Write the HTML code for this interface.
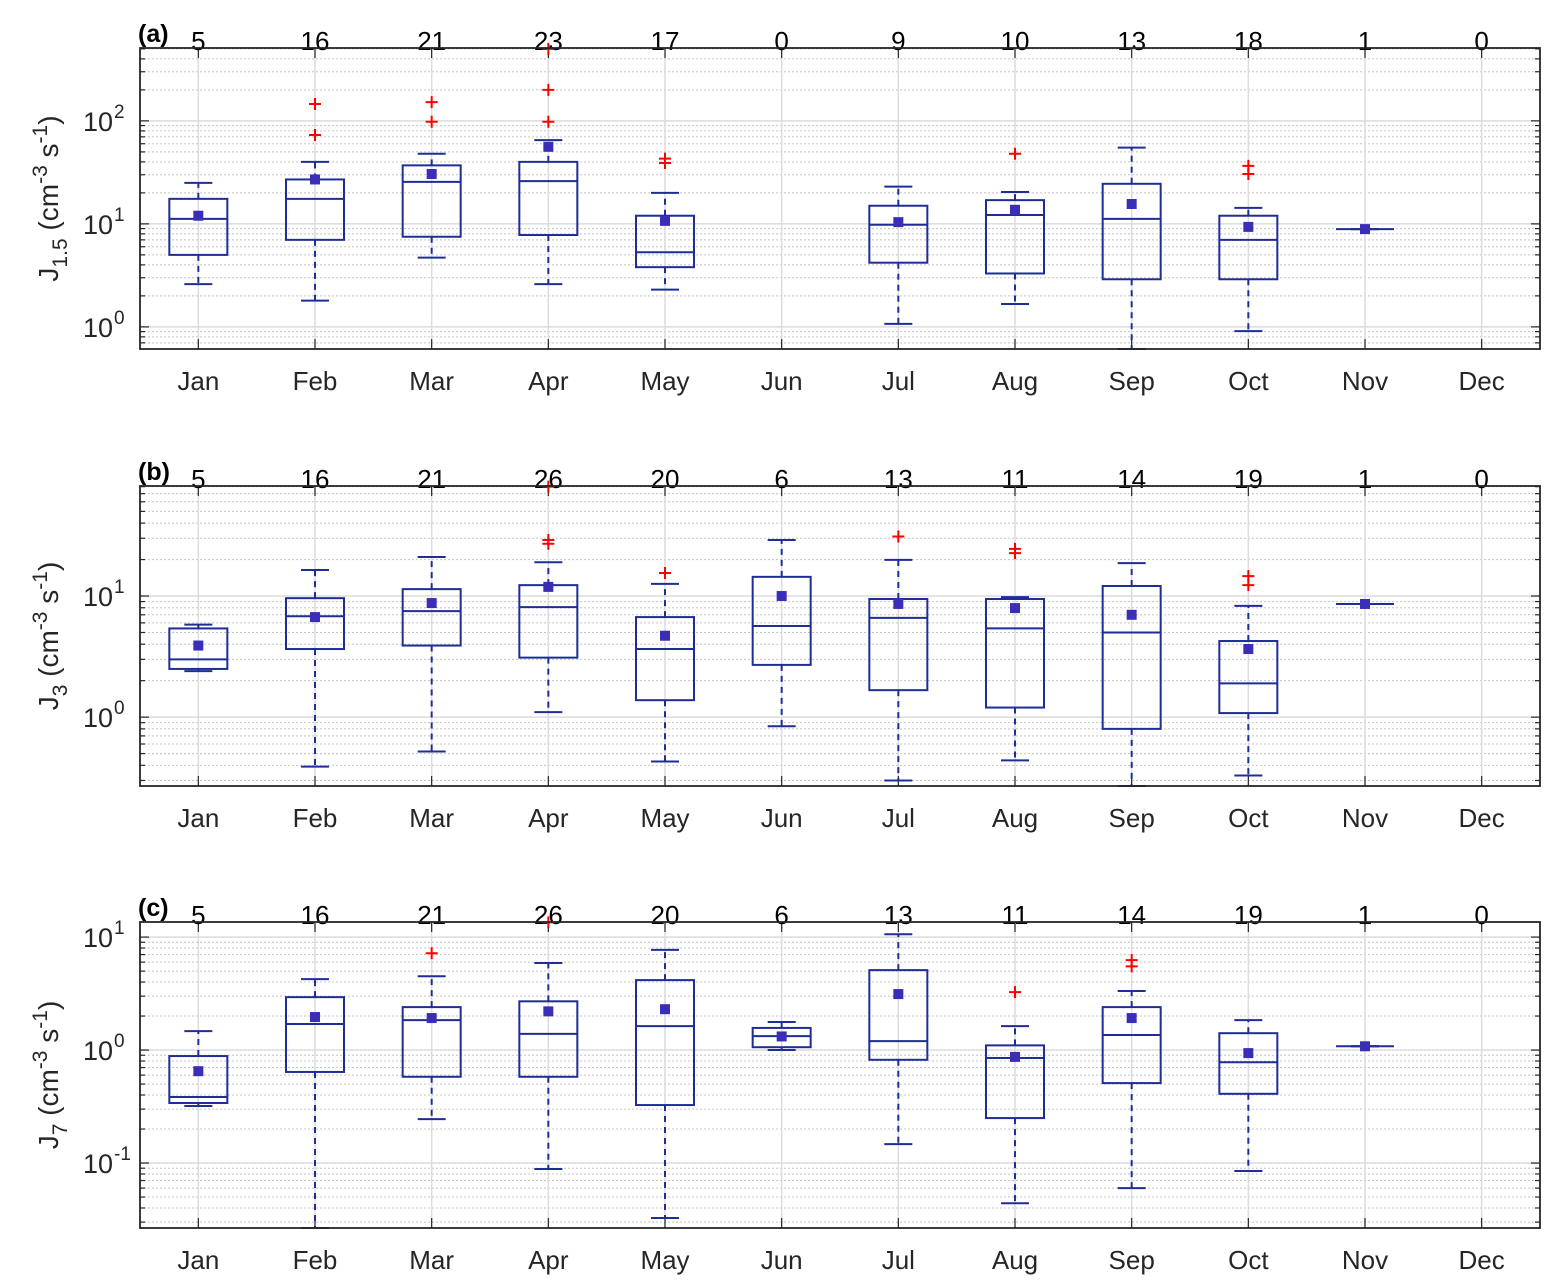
<!DOCTYPE html>
<html><head><meta charset="utf-8"><style>
html,body{margin:0;padding:0;background:#fff}
svg{display:block;font-family:"Liberation Sans",sans-serif}
</style></head><body>
<svg id="chart" width="1555" height="1288" viewBox="0 0 1555 1288" xmlns="http://www.w3.org/2000/svg"></svg>
<script>
const months = ["Jan","Feb","Mar","Apr","May","Jun","Jul","Aug","Sep","Oct","Nov","Dec"];
// Panel (a) J1.5
const countsA = [5,16,21,23,17,0,9,10,13,18,1,0];
const lowA  = [2.6,1.8,4.7,2.6,2.3,null,1.07,1.67,0.61,0.91,8.9,null];
const q1A   = [5,7,7.5,7.8,3.8,null,4.2,3.3,2.9,2.9,8.9,null];
const medA  = [11.2,17.5,25.6,26,5.3,null,9.8,12.2,11.2,7,8.9,null];
const q3A   = [17.5,27,37,40,12,null,15,17,24.5,12,8.9,null];
const highA = [25,40,48,65,20,null,23,20.4,55,14.3,8.9,null];
const meanA = [12,27,30.5,56,10.7,null,10.4,13.7,15.6,9.35,8.9,null];
const outA  = [[],[146,73],[152,98],[500,200,98],[43,39],[],[],[48],[],[36.6,30.5],[],[]];
// Panel (b) J3
const countsB = [5,16,21,26,20,6,13,11,14,19,1,0];
const lowB  = [2.4,0.39,0.52,1.1,0.43,0.84,0.3,0.44,0.27,0.33,8.6,null];
const q1B   = [2.5,3.65,3.9,3.1,1.38,2.7,1.67,1.2,0.8,1.08,8.6,null];
const medB  = [3.0,6.8,7.5,8.1,3.65,5.65,6.6,5.4,5.0,1.9,8.6,null];
const q3B   = [5.4,9.6,11.4,12.3,6.7,14.4,9.45,9.45,12.1,4.25,8.6,null];
const highB = [5.8,16.4,21,19,12.6,29,19.9,9.8,18.7,8.3,8.6,null];
const meanB = [3.9,6.7,8.75,11.9,4.7,10,8.6,7.95,7.0,3.65,8.6,null];
const outB  = [[],[],[],[80,29,27],[15.5],[],[31],[24.5,22.6],[],[14.6,12.3],[],[]];
// Panel (c) J7
const countsC = [5,16,21,26,20,6,13,11,14,19,1,0];
const lowC  = [0.32,0.0266,0.245,0.0885,0.0326,1.0,0.147,0.044,0.06,0.085,1.08,null];
const q1C   = [0.34,0.64,0.58,0.58,0.326,1.06,0.82,0.25,0.51,0.41,1.08,null];
const medC  = [0.384,1.7,1.84,1.39,1.63,1.33,1.2,0.85,1.36,0.78,1.08,null];
const q3C   = [0.885,2.94,2.4,2.7,4.16,1.57,5.1,1.1,2.4,1.41,1.08,null];
const highC = [1.47,4.25,4.5,5.9,7.7,1.77,10.6,1.63,3.33,1.84,1.08,null];
const meanC = [0.65,1.96,1.92,2.2,2.3,1.32,3.13,0.87,1.92,0.94,1.08,null];
const outC  = [[],[],[7.2],[13.5],[],[],[],[3.26],[6.26,5.5],[],[],[]];

const NS="http://www.w3.org/2000/svg";
const svg=document.getElementById('chart');
function el(tag,attrs,parent){const e=document.createElementNS(NS,tag);for(const k in attrs)e.setAttribute(k,attrs[k]);(parent||svg).appendChild(e);return e;}

const X0=140,X1=1540;
function xs(i){return X0+(i+0.5)*(X1-X0)/12;}

const panels=[
 {id:'a',top:48,bottom:349,ymin:0.61,ymax:510,decs:[0,1,2],sub:'1.5',counts:countsA,low:lowA,q1:q1A,med:medA,q3:q3A,high:highA,mean:meanA,out:outA},
 {id:'b',top:486,bottom:786,ymin:0.27,ymax:81,decs:[0,1],sub:'3',counts:countsB,low:lowB,q1:q1B,med:medB,q3:q3B,high:highB,mean:meanB,out:outB},
 {id:'c',top:922,bottom:1228,ymin:0.0266,ymax:13.6,decs:[-1,0,1],sub:'7',counts:countsC,low:lowC,q1:q1C,med:medC,q3:q3C,high:highC,mean:meanC,out:outC}
];
const BOX='#1f2d96', MEAN='#3a2db8';

panels.forEach(p=>{
  const g=el('g',{});
  
  
  const lmin=Math.log10(p.ymin),lmax=Math.log10(p.ymax);
  const ys=v=>p.bottom-(Math.log10(v)-lmin)/(lmax-lmin)*(p.bottom-p.top);
  const grid=el('g',{},g);
  
  
  for(let d=Math.floor(lmin);d<=Math.ceil(lmax);d++){
    for(let m=1;m<10;m++){
      const v=m*Math.pow(10,d);
      if(v<p.ymin||v>p.ymax)continue;
      const y=ys(v);
      if(m===1){el('line',{x1:X0,x2:X1,y1:y,y2:y,stroke:'#dcdcdc','stroke-width':1.5},grid);}
      else el('line',{x1:X0,x2:X1,y1:y,y2:y,stroke:'#c4c4c4','stroke-width':1,'stroke-dasharray':'2,2'},grid);
      const tl=m===1?9:5;
      el('line',{x1:X0,x2:X0+tl,y1:y,y2:y,stroke:'#262626','stroke-width':1.2},grid);
      el('line',{x1:X1,x2:X1-tl,y1:y,y2:y,stroke:'#262626','stroke-width':1.2},grid);
    }
  }
  months.forEach((m,i)=>{
    const x=xs(i);
    el('line',{x1:x,x2:x,y1:p.top,y2:p.bottom,stroke:'#dcdcdc','stroke-width':1.5},grid);
    el('line',{x1:x,x2:x,y1:p.top,y2:p.top+10,stroke:'#262626','stroke-width':1.2},grid);
    el('line',{x1:x,x2:x,y1:p.bottom,y2:p.bottom-10,stroke:'#262626','stroke-width':1.2},grid);
    const t=el('text',{x:x,y:p.bottom+41,'text-anchor':'middle','font-size':26,fill:'#262626'},g);
    t.textContent=m;
    
    
    const c=el('text',{x:x,y:p.top+2,'text-anchor':'middle','font-size':26,fill:'#000'},g);
    c.textContent=p.counts[i];
    
    
  });
  p.decs.forEach(d=>{
    const y=ys(Math.pow(10,d));
    const t=el('text',{x:113,y:y+10,'text-anchor':'end','font-size':27,fill:'#262626'},g);
    t.textContent='10';
    
    
    const s=el('text',{x:114,y:y-3,'text-anchor':'start','font-size':19,fill:'#262626'},g);
    s.textContent=String(d);
  });
  months.forEach((m,i)=>{
    if(p.med[i]==null)return;
    const x=xs(i),hw=29,cw=14;
    const bg=el('g',{},g);
    
    
    const yq1=ys(p.q1[i]),yq3=ys(p.q3[i]),ylo=ys(p.low[i]),yhi=ys(p.high[i]),ym=ys(p.med[i]);
    el('line',{x1:x,x2:x,y1:yq3,y2:yhi,stroke:BOX,'stroke-width':2,'stroke-dasharray':'6,5'},bg);
    el('line',{x1:x,x2:x,y1:yq1,y2:ylo,stroke:BOX,'stroke-width':2,'stroke-dasharray':'6,5'},bg);
    el('line',{x1:x-cw,x2:x+cw,y1:yhi,y2:yhi,stroke:BOX,'stroke-width':2},bg);
    el('line',{x1:x-cw,x2:x+cw,y1:ylo,y2:ylo,stroke:BOX,'stroke-width':2},bg);
    if(p.q3[i]!==p.q1[i])el('rect',{x:x-hw,y:yq3,width:2*hw,height:yq1-yq3,fill:'none',stroke:BOX,'stroke-width':2},bg);
    el('line',{x1:x-hw,x2:x+hw,y1:ym,y2:ym,stroke:BOX,'stroke-width':2},bg);
    p.out[i].forEach(v=>{
      const y=ys(v);
      const o=el('path',{d:`M${x-6},${y}H${x+6}M${x},${y-6}V${y+6}`,stroke:'#ff0000','stroke-width':2,fill:'none'},bg);
      
      
    });
    const mk=el('rect',{x:x-5,y:ys(p.mean[i])-5,width:10,height:10,fill:MEAN},bg);
    
    
  });
  el('rect',{x:X0,y:p.top,width:X1-X0,height:p.bottom-p.top,fill:'none',stroke:'#262626','stroke-width':1.8},g);
  const lab=el('text',{x:138,y:p.top-6,'font-size':25,'font-weight':'bold',fill:'#000'},g);
  lab.textContent='('+p.id+')';
  
  
  const cy=(p.top+p.bottom)/2;
  const yt=el('text',{transform:`translate(58,${cy}) rotate(-90)`,'text-anchor':'middle','font-size':28,fill:'#262626'},g);
  
  
  const parts=[['J',0,28],[p.sub,9,21],[' (cm',-9,28],['-3',-11,21],[' s',11,28],['-1',-11,21],[')',11,28]];
  parts.forEach(([t,dy,fs])=>{const ts=el('tspan',{dy:dy,'font-size':fs},yt);ts.textContent=t;});
});
</script>
</body></html>
